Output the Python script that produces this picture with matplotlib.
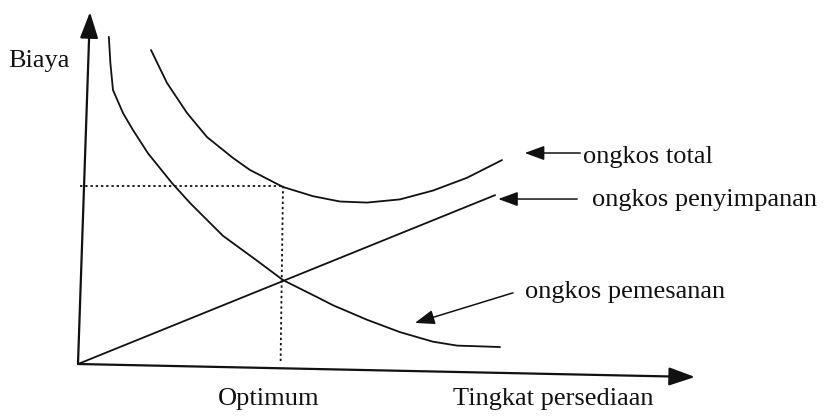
import matplotlib
matplotlib.use("Agg")
import matplotlib.pyplot as plt

# ---- data (x: inventory level, y: cost) ----
order_x = [5.00, 5.25, 5.67, 7.29, 8.91, 11.35, 15.24, 18.15, 23.50, 29.01,
           33.23, 38.74, 41.33, 46.84, 52.19, 57.54, 61.43, 68.40]
order_y = [92.4, 85.0, 77.4, 70.9, 66.1, 59.5, 51.1, 45.5, 36.2, 29.2,
           23.7, 18.9, 16.6, 12.5, 9.0, 6.3, 5.2, 4.8]

total_x = [11.83, 14.42, 17.67, 20.91, 25.12, 27.88, 33.23, 38.09, 42.46,
           46.84, 52.19, 57.54, 63.05, 68.72]
total_y = [88.7, 79.4, 70.9, 64.1, 58.2, 54.8, 50.0, 47.4, 45.9,
           45.6, 46.5, 49.0, 52.6, 57.6]

hold_x = [0.0, 67.6]
hold_y = [0.0, 47.7]

opt_x = 33.23
opt_y = 50.3

y_axis_tip = (1.94, 99.4)
x_axis_tip = (100.0, -3.67)

y_label = "Biaya"
x_label = "Tingkat persediaan"
opt_label = "Optimum"
lbl_total = "ongkos total"
lbl_hold = "ongkos penyimpanan"
lbl_order = "ongkos pemesanan"

# ---- figure ----
fig = plt.figure(figsize=(8.26, 4.17), dpi=100)
ax = fig.add_axes([0, 0, 1, 1])
ax.set_xlim(-12.64, 121.23)
ax.set_ylim(-14.97, 102.82)
ax.axis("off")

ink = "#111111"
font = dict(family=["Liberation Serif", "DejaVu Serif"], size=19, color=ink)

# axes with arrows
ax_arrow = dict(arrowstyle="-|>,head_length=0.8,head_width=0.28",
                mutation_scale=20, lw=1.6, color=ink, shrinkA=0, shrinkB=0)
ax.annotate("", xy=y_axis_tip, xytext=(0, 0), arrowprops=ax_arrow)
ax.annotate("", xy=x_axis_tip, xytext=(0, 0), arrowprops=ax_arrow)

# curves
ax.plot(order_x, order_y, color=ink, lw=1.3, solid_capstyle="round", solid_joinstyle="round")
ax.plot(total_x, total_y, color=ink, lw=1.3, solid_capstyle="round", solid_joinstyle="round")
ax.plot(hold_x, hold_y, color=ink, lw=1.3, solid_capstyle="round")

# dotted guides
ax.plot([0.3, opt_x], [opt_y, opt_y], color=ink, lw=1.3, ls=(0, (1.3, 1.6)))
ax.plot([opt_x, opt_x - 0.4], [opt_y, 0], color=ink, lw=1.3, ls=(0, (1.3, 1.6)))

# label arrows
lab_arrow = dict(arrowstyle="-|>,head_length=0.6,head_width=0.22",
                 mutation_scale=20, lw=1.1, color=ink, shrinkA=0, shrinkB=0)
ax.annotate("", xy=(72.4, 59.6), xytext=(81.4, 59.6), arrowprops=lab_arrow)
ax.annotate("", xy=(68.1, 46.6), xytext=(80.9, 46.6), arrowprops=lab_arrow)
ax.annotate("", xy=(54.6, 11.6), xytext=(70.5, 20.1), arrowprops=lab_arrow)

# texts
ax.text(-11.35, 83.9, y_label, ha="left", va="baseline", **font)
ax.text(81.8, 56.8, lbl_total, ha="left", va="baseline", **font)
ax.text(83.3, 44.6, lbl_hold, ha="left", va="baseline", **font)
ax.text(72.4, 18.6, lbl_order, ha="left", va="baseline", **font)
ax.text(22.7, -11.6, opt_label, ha="left", va="baseline", **font)
ax.text(60.8, -11.6, x_label, ha="left", va="baseline", **font)

fig.savefig("out.png", dpi=100, facecolor="white")
